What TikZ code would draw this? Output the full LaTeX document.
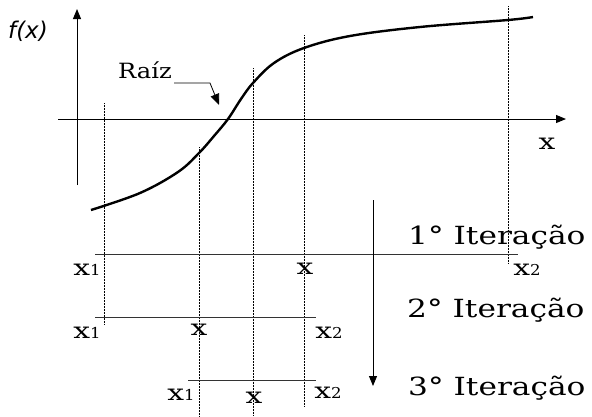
\documentclass[tikz,border=0pt]{standalone}
\usepackage{fontspec}
\usepackage{graphicx}
\setmainfont{DejaVu Serif}
\newfontfamily\fxfont{DejaVu Sans}
\usetikzlibrary{arrows.meta}
\newcommand{\wtxt}[2]{\scalebox{#1}[1]{#2}}
\newcommand{\xsub}[1]{\wtxt{1.35}{x}{\fontsize{15}{15}\selectfont\wtxt{1.1}{#1}}}
\begin{document}
\begin{tikzpicture}[x=1pt,y=-1pt,
  axis/.style={line width=1pt, -{Triangle[length=10pt,width=8pt]}},
  guide/.style={densely dotted, line width=0.5pt},
  seg/.style={line width=1pt, black!80},
  lbl/.style={inner sep=0pt, font=\fontsize{22}{22}\selectfont},
  itlbl/.style={inner sep=0pt, font=\fontsize{25}{25}\selectfont, anchor=west},
]
\useasboundingbox (0,0) rectangle (592,416);
% axes
\coordinate (yb) at (77,185); \coordinate (yt) at (77,9);
\coordinate (xl) at (58,119); \coordinate (xr) at (566,119);
\draw[axis] (yb) -- (yt);
\draw[axis] (xl) -- (xr);
\node[inner sep=0pt, font=\fxfont\itshape\fontsize{23}{23}\selectfont] (fx) at (28,31) {f(x)};
\node[lbl] (xlab) at (547,144) {\wtxt{1.35}{x}};
% curve
\draw[line width=2.4pt] plot[smooth, tension=0.6] coordinates {(91,210) (140,193) (178,172) (199,153) (214,136) (228,119) (241,99) (253,83) (274,63) (304,48) (350,36) (420,27) (508,20) (533,17)};
% Raiz
\node[inner sep=0pt, font=\fontsize{21}{21}\selectfont] (raiz) at (145,70) {\wtxt{1.15}{Raíz}};
\coordinate (r1) at (174,83); \coordinate (r2) at (210,83); \coordinate (r3) at (219,105);
\draw[line width=0.8pt, -{Triangle[length=11pt,width=9pt]}] (r1) -- (r2) -- (r3);
% guides
\draw[guide] (104,103) -- (104,325);
\draw[guide] (199,147) -- (199,416);
\draw[guide] (253,68) -- (253,416);
\draw[guide] (304,35) -- (304,407);
\draw[guide] (508,6) -- (508,263);
% iteration segments
\draw[seg] (95,254) -- (518,254);
\draw[seg] (95,317) -- (316,317);
\draw[seg] (188,380) -- (316,380);
% downward arrow
\coordinate (da) at (373,200); \coordinate (db) at (373,386);
\draw[line width=1pt, -{Triangle[length=10pt,width=8pt]}] (da) -- (db);
% labels row 1
\node[lbl] (a1) at (87,270) {\xsub{1}};
\node[lbl] (a2) at (305,269) {\wtxt{1.35}{x}};
\node[lbl] (a3) at (527,270) {\xsub{2}};
% row 2
\node[lbl] (b1) at (87,333) {\xsub{1}};
\node[lbl] (b2) at (199,330) {\wtxt{1.35}{x}};
\node[lbl] (b3) at (329,333) {\xsub{2}};
% row 3
\node[lbl] (c1) at (181,395) {\xsub{1}};
\node[lbl] (c2) at (254,398) {\wtxt{1.35}{x}};
\node[lbl] (c3) at (328,393) {\xsub{2}};
% iteration names
\node[itlbl] (i1) at (408,237) {\wtxt{1.25}{1° Iteração}};
\node[itlbl] (i2) at (407,310) {\wtxt{1.25}{2° Iteração}};
\node[itlbl] (i3) at (408,388) {\wtxt{1.25}{3° Iteração}};
\end{tikzpicture}
\end{document}
